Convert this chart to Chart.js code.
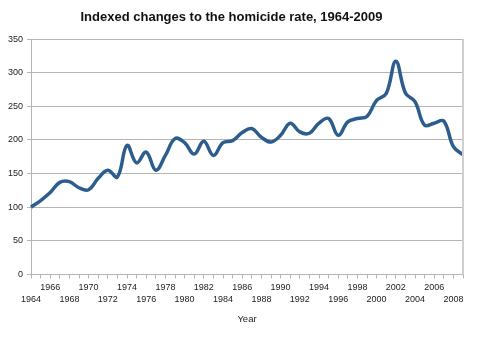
<!DOCTYPE html>
<html>
<head>
<meta charset="utf-8">
<script src="https://cdn.jsdelivr.net/npm/chart.js@4"></script>
<style>
    body { margin: 0; background: #fff; }
    #wrap { width: 480px; height: 345px; }
</style>
</head>
<body>
<div id="wrap"><canvas id="homicideChart"></canvas></div>
<script>
const years = [1964, 1965, 1966, 1967, 1968, 1969, 1970, 1971, 1972, 1973,
    1974, 1975, 1976, 1977, 1978, 1979, 1980, 1981, 1982, 1983,
    1984, 1985, 1986, 1987, 1988, 1989, 1990, 1991, 1992, 1993,
    1994, 1995, 1996, 1997, 1998, 1999, 2000, 2001, 2002, 2003,
    2004, 2005, 2006, 2007, 2008, 2009];

const homicideIndex = [100, 110, 122, 137, 138, 129, 126, 143, 155, 145,
    192, 166, 182, 155, 177, 202, 196, 179, 198, 177,
    196, 199, 211, 217, 204, 197, 207, 225, 212, 210,
    225, 232, 207, 227, 232, 235, 259, 269, 317, 270,
    257, 222, 225, 228, 190, 178];

const yTicks = [0, 50, 100, 150, 200, 250, 300, 350];

const gridColor = '#b4b4b4';
const textColor = '#222';
const fontFamily = '"Liberation Sans", Arial, sans-serif';

// right-hand frame line of the plot area
const rightBorder = {
    id: 'rightBorder',
    afterDraw(chart) {
        const { ctx, chartArea } = chart;
        ctx.save();
        ctx.strokeStyle = '#cfcfcf';
        ctx.lineWidth = 2;
        ctx.beginPath();
        ctx.moveTo(chartArea.right, chartArea.top);
        ctx.lineTo(chartArea.right, chartArea.bottom);
        ctx.stroke();
        ctx.restore();
    }
};

function createHomicideChart() {
    const ctx = document.getElementById('homicideChart').getContext('2d');
    new Chart(ctx, {
        type: 'line',
        data: {
            labels: years,
            datasets: [{
                label: 'Homicide rate index',
                data: homicideIndex,
                borderColor: '#2c5d8c',
                borderWidth: 3.5,
                tension: 0.4,
                pointRadius: 0,
                fill: false
            }]
        },
        options: {
            responsive: true,
            maintainAspectRatio: false,
            animation: false,
            layout: {
                padding: { left: 0, right: 17, top: 0, bottom: 0 }
            },
            scales: {
                x: {
                    type: 'category',
                    offset: false,
                    afterFit(scale) { scale.height = 70.5; },
                    grid: {
                        drawOnChartArea: false,
                        drawTicks: true,
                        tickLength: 4,
                        color: gridColor
                    },
                    border: { display: true, color: gridColor },
                    ticks: {
                        autoSkip: false,
                        maxRotation: 0,
                        minRotation: 0,
                        padding: 3,
                        color: textColor,
                        font: { family: fontFamily, size: 9, lineHeight: 1.35 },
                        callback(value, index) {
                            const year = years[index];
                            if (year % 2 !== 0) return '';
                            // staggered labels: 1966, 1970... on top row
                            if ((year - 1964) % 4 === 0) return ['', String(year)];
                            return [String(year)];
                        }
                    },
                    title: {
                        display: true,
                        text: 'Year',
                        color: textColor,
                        font: { family: fontFamily, size: 9.5 },
                        padding: { top: 4, bottom: 20 }
                    }
                },
                y: {
                    min: 0,
                    max: 350,
                    afterFit(scale) { scale.width = 31; },
                    afterBuildTicks(scale) {
                        scale.ticks = yTicks.map(v => ({ value: v }));
                    },
                    grid: {
                        color: gridColor,
                        tickLength: 4
                    },
                    border: { display: true, color: gridColor },
                    ticks: {
                        padding: 4,
                        color: textColor,
                        font: { family: fontFamily, size: 9 }
                    }
                }
            },
            plugins: {
                legend: { display: false },
                tooltip: { enabled: false },
                title: {
                    display: true,
                    text: 'Indexed changes to the homicide rate, 1964-2009',
                    color: '#111',
                    font: { family: fontFamily, size: 13, weight: 'bold' },
                    padding: { top: 10, bottom: 13.5 }
                }
            }
        },
        plugins: [rightBorder]
    });
}

createHomicideChart();
</script>
</body>
</html>
